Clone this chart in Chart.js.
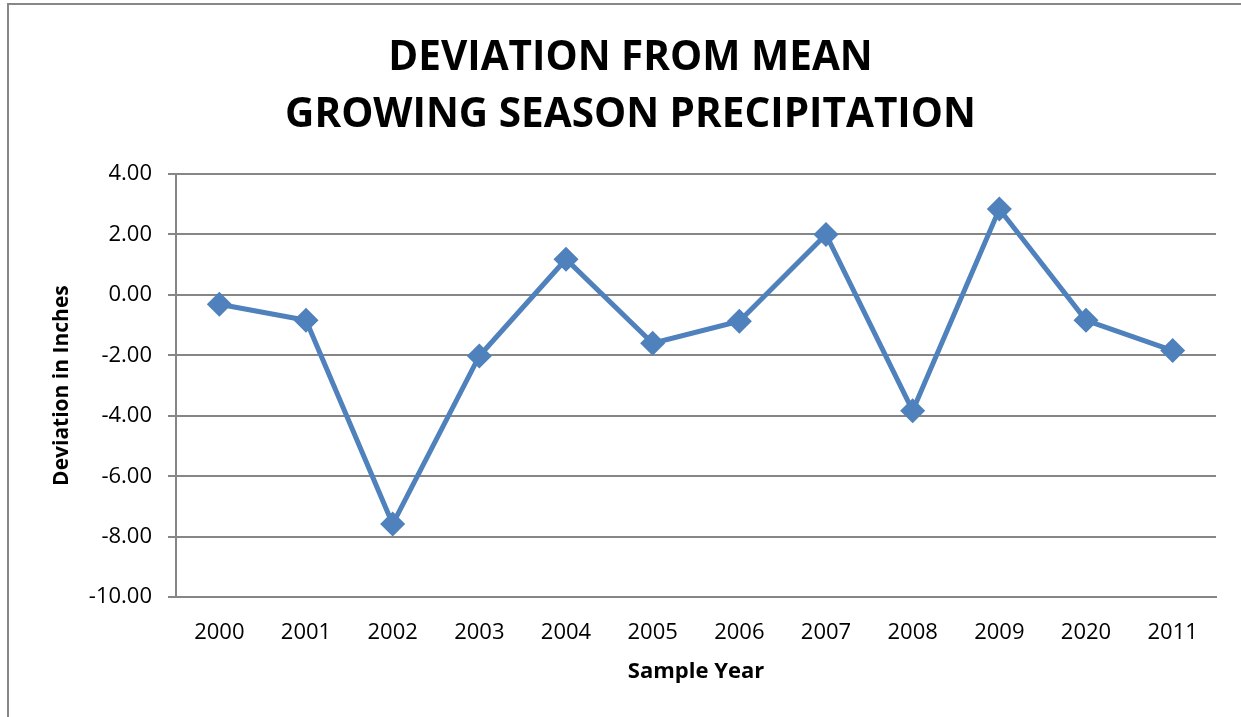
<!DOCTYPE html>
<html>
<head>
<meta charset="utf-8">
<script src="https://cdn.jsdelivr.net/npm/chart.js@4"></script>
<style>
    body { margin: 0; background: #fff; }
    #wrap { width: 1241px; height: 717px; }
</style>
</head>
<body>
<div id="wrap"><canvas id="chart" width="1241" height="717"></canvas></div>
<script>
// Chart data
const years = ['2000', '2001', '2002', '2003', '2004', '2005', '2006', '2007', '2008', '2009', '2020', '2011'];
const deviation = [-0.31, -0.84, -7.58, -2.02, 1.18, -1.6, -0.87, 2.0, -3.83, 2.84, -0.84, -1.84];
const titleLines = ['DEVIATION FROM MEAN', 'GROWING SEASON PRECIPITATION'];

const fontFamily = '"Open Sans", Lato, sans-serif';

// Draws the outer chart frame (left and top edges visible)
const framePlugin = {
    id: 'frame',
    beforeDraw(chart) {
        const ctx = chart.ctx;
        ctx.save();
        ctx.strokeStyle = '#878787';
        ctx.lineWidth = 2;
        ctx.beginPath();
        ctx.moveTo(8, 717);
        ctx.lineTo(8, 4);
        ctx.lineTo(1241, 4);
        ctx.stroke();
        ctx.restore();
    }
};

new Chart(document.getElementById('chart'), {
    type: 'line',
    data: {
        labels: years,
        datasets: [{
            data: deviation,
            borderColor: '#4F81BD',
            backgroundColor: '#4F81BD',
            borderWidth: 5,
            pointStyle: 'rectRot',
            pointRadius: 9,
            pointHoverRadius: 9,
            tension: 0
        }]
    },
    options: {
        responsive: false,
        animation: false,
        layout: { padding: { left: 45, right: 25, top: 30, bottom: 32 } },
        plugins: {
            legend: { display: false },
            tooltip: { enabled: false },
            title: {
                display: true,
                text: titleLines,
                color: '#000',
                font: { family: fontFamily, size: 40.5, weight: 'bold', lineHeight: 1.407 },
                padding: { top: 0, bottom: 30 }
            }
        },
        scales: {
            x: {
                offset: true,
                grid: { display: false, drawTicks: false },
                border: { color: '#868686', width: 2 },
                ticks: { color: '#000', font: { family: fontFamily, size: 22 }, padding: 22 },
                title: {
                    display: true,
                    text: 'Sample Year',
                    color: '#000',
                    font: { family: fontFamily, size: 22, weight: 'bold' },
                    padding: { top: -9, bottom: 0 }
                }
            },
            y: {
                min: -10,
                max: 4,
                afterFit(scale) { scale.width = 131; },
                grid: { color: '#868686', lineWidth: 2, tickLength: 8 },
                border: { color: '#868686', width: 2 },
                ticks: {
                    stepSize: 2,
                    color: '#000',
                    padding: 16,
                    font: { family: fontFamily, size: 22 },
                    callback: value => value.toFixed(2)
                },
                title: {
                    display: true,
                    text: 'Deviation in Inches',
                    color: '#000',
                    font: { family: fontFamily, size: 21, weight: 'bold' }
                }
            }
        }
    },
    plugins: [framePlugin]
});
</script>
</body>
</html>
